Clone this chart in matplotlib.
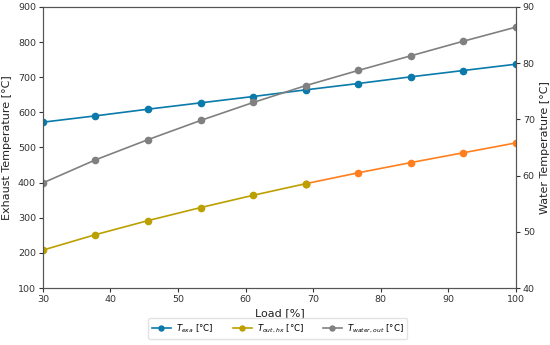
import matplotlib.pyplot as plt
import numpy as np

load = [30, 37.78, 45.56, 53.33, 61.11, 68.89, 76.67, 84.44, 92.22, 100]
t_exa = [572, 590, 609, 627, 645, 664, 682, 701, 719, 737]
t_out_hx = [208, 252, 292, 329, 364, 397, 428, 457, 485, 513]
t_water_out = [58.7, 62.8, 66.4, 69.8, 73.0, 76.0, 78.7, 81.3, 83.9, 86.4]

# the T_out,hx curve changes colour after the 6th point
split = 5

blue = '#0a7aaa'
gold = '#bca000'
orange = '#ff7f1e'
gray = '#808080'
spine_col = '#555555'

fig, ax = plt.subplots(figsize=(5.5, 3.45), dpi=100)
fig.subplots_adjust(left=0.078, right=0.938, top=0.98, bottom=0.165)
ax2 = ax.twinx()

x = np.array(load)
ax.plot(x, t_exa, color=blue, marker='o', markersize=4.5, linewidth=1.2,
        label=r'$T_{exa}$ [°C]')
ax.plot(x[:split + 1], t_out_hx[:split + 1], color=gold, marker='o',
        markersize=4.5, linewidth=1.2, label=r'$T_{out,hx}$ [°C]')
ax.plot(x[split:], t_out_hx[split:], color=orange, marker='o',
        markersize=4.5, linewidth=1.2)
ax.plot(x[split], t_out_hx[split], color=gold, marker='o', markersize=4.5)
ax2.plot(x, t_water_out, color=gray, marker='o', markersize=4.5,
         linewidth=1.2, label=r'$T_{water,out}$ [°C]')

ax.set_xlim(30, 100)
ax.set_ylim(100, 900)
ax2.set_ylim(40, 90)
ax.set_xticks(range(30, 101, 10))
ax.set_yticks(range(100, 901, 100))
ax2.set_yticks(range(40, 91, 10))

ax.set_xlabel('Load [%]', fontsize=8, color='#222222', labelpad=3)
ax.set_ylabel('Exhaust Temperature [°C]', fontsize=8, color='#222222',
              labelpad=4)
ax2.set_ylabel('Water Temperature [°C]', fontsize=8, color='#222222',
               labelpad=4)

for a in (ax, ax2):
    a.tick_params(labelsize=6.8, colors='#333333', length=3, pad=2)
    for s in a.spines.values():
        s.set_color(spine_col)

h1, l1 = ax.get_legend_handles_labels()
h2, l2 = ax2.get_legend_handles_labels()
fig.legend(h1 + h2, l1 + l2, loc='lower center', ncol=3, fontsize=6.2,
           bbox_to_anchor=(0.505, 0.005), frameon=True, edgecolor='#dddddd',
           handlelength=2.2, columnspacing=2.2, borderpad=0.45,
           handletextpad=0.6, markerscale=0.8)

fig.savefig('out.png', dpi=100)
